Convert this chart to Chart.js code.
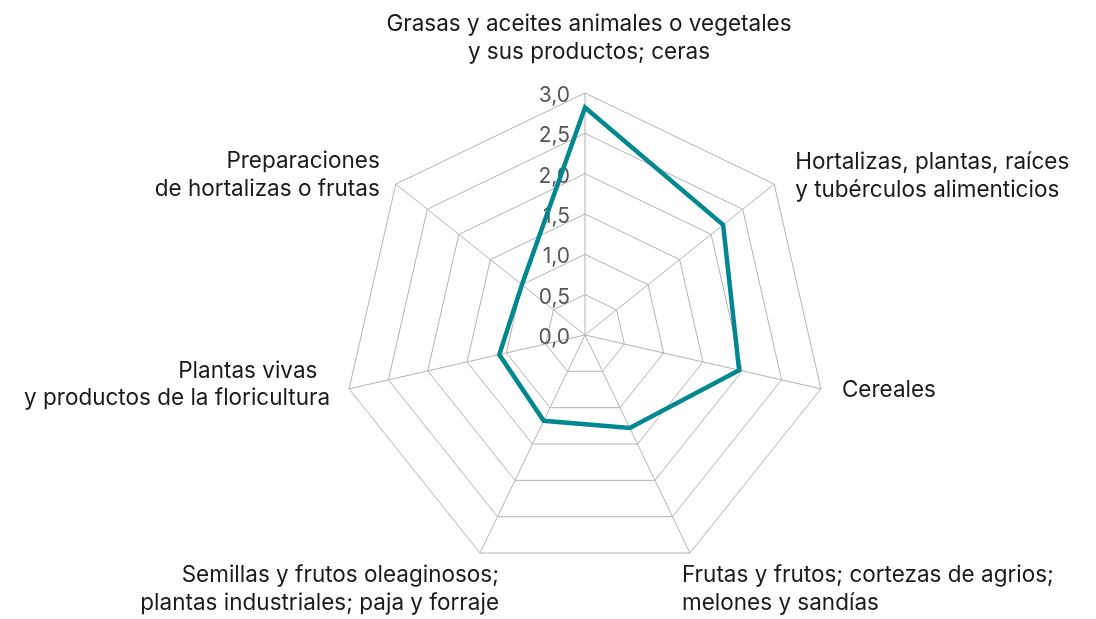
<!DOCTYPE html>
<html>
<head>
<meta charset="utf-8">
<script src="https://cdn.jsdelivr.net/npm/chart.js@4/dist/chart.umd.min.js"></script>
<style>
  html, body { margin: 0; padding: 0; background: #fff; }
  #wrap { width: 1096px; height: 619px; position: relative; }
</style>
</head>
<body>
<div id="wrap"><canvas id="radarChart"></canvas></div>
<script>
// categories (one entry per axis, split into the lines shown)
var categories = [
    ['Grasas y aceites animales o vegetales', 'y sus productos; ceras'],
    ['Hortalizas, plantas, raíces', 'y tubérculos alimenticios'],
    ['Cereales'],
    ['Frutas y frutos; cortezas de agrios;', 'melones y sandías'],
    ['Semillas y frutos oleaginosos;', 'plantas industriales; paja y forraje'],
    ['Plantas vivas  ', 'y productos de la floricultura'],
    ['Preparaciones', 'de hortalizas o frutas']
];
var values = [2.82, 2.19, 1.96, 1.28, 1.18, 1.09, 1.0];
var tickValues = [0, 0.5, 1, 1.5, 2, 2.5, 3];
var tickLabels = ['0,0', '0,5', '1,0', '1,5', '2,0', '2,5', '3,0'];

// where each axis label sits relative to the outer vertex
var labelPlace = [
    { align: 'center', dx: 4, dy: -62 },
    { align: 'left', dx: 21, dy: -15 },
    { align: 'left', dx: 21, dy: 8 },
    { align: 'left', dx: -8, dy: 29 },
    { align: 'right', dx: 19, dy: 29 },
    { align: 'right', dx: -19, dy: -11 },
    { align: 'right', dx: -16, dy: -16 }
];

var labelFont = '22.5px Inter, "Liberation Sans", Arial, sans-serif';
var tickFont = '21px Inter, "Liberation Sans", Arial, sans-serif';

var textPlugin = {
    id: 'radarText',
    beforeDatasetsDraw: function(chart) {
        var r = chart.scales.r;
        var ctx = chart.ctx;
        ctx.save();
        ctx.font = tickFont;
        ctx.fillStyle = '#555555';
        ctx.textAlign = 'right';
        ctx.textBaseline = 'alphabetic';
        for (var i = 0; i < tickValues.length; i++) {
            var p = r.getPointPositionForValue(0, tickValues[i]);
            ctx.fillText(tickLabels[i], p.x - 15, p.y + 9);
        }
        ctx.restore();
    },
    afterDraw: function(chart) {
        var r = chart.scales.r;
        var ctx = chart.ctx;
        ctx.save();
        ctx.font = labelFont;
        ctx.fillStyle = '#1a1a1a';
        ctx.textBaseline = 'alphabetic';
        for (var i = 0; i < categories.length; i++) {
            var v = r.getPointPositionForValue(i, r.max);
            var pl = labelPlace[i];
            ctx.textAlign = pl.align;
            categories[i].forEach(function(line, k) {
                ctx.fillText(line, v.x + pl.dx, v.y + pl.dy + k * 27.5);
            });
        }
        ctx.restore();
    }
};

var ctx = document.getElementById('radarChart').getContext('2d');
var radarChart = new Chart(ctx, {
    type: 'radar',
    data: {
        labels: categories.map(function(c) { return c.join(' '); }),
        datasets: [{
            data: values,
            borderColor: '#00878f',
            borderWidth: 4.5,
            borderJoinStyle: 'miter',
            fill: false,
            pointRadius: 0,
            pointHoverRadius: 0,
            tension: 0
        }]
    },
    options: {
        responsive: true,
        maintainAspectRatio: false,
        animation: false,
        layout: {
            padding: { left: 100, right: 26, top: 93, bottom: 42 }
        },
        plugins: {
            legend: { display: false },
            tooltip: { enabled: false }
        },
        scales: {
            r: {
                min: 0,
                max: 3,
                ticks: { stepSize: 0.5, display: false },
                grid: { color: '#b3b3b3', lineWidth: 1 },
                angleLines: { color: '#b3b3b3', lineWidth: 1 },
                pointLabels: { display: false }
            }
        }
    },
    plugins: [textPlugin]
});
</script>
</body>
</html>
